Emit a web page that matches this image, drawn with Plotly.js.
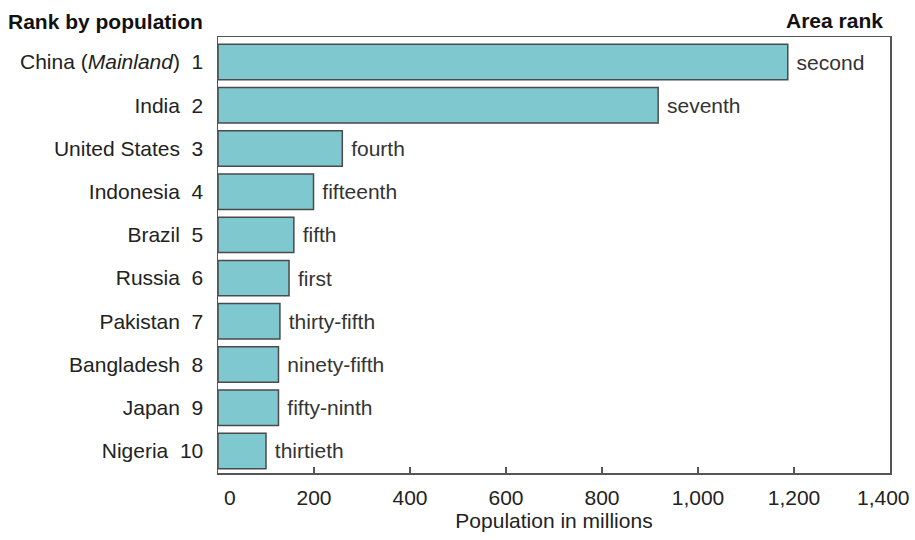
<!DOCTYPE html>
<html><head><meta charset="utf-8">
<script src="https://cdn.plot.ly/plotly-3.0.1.min.js"></script>
<style>html,body{margin:0;padding:0;background:#fff;}#chart{width:915px;height:540px;}</style>
</head><body><div id="chart"></div>
<script>
var countries = ["China (<i>Mainland</i>)", "India", "United States", "Indonesia", "Brazil", "Russia", "Pakistan", "Bangladesh", "Japan", "Nigeria"];
var popRanks = [1, 2, 3, 4, 5, 6, 7, 8, 9, 10];
var population = [1187, 917, 259, 199, 158, 148, 129, 126, 126, 100];
var areaRanks = ["second", "seventh", "fourth", "fifteenth", "fifth", "first", "thirty-fifth", "ninety-fifth", "fifty-ninth", "thirtieth"];
var xTickVals = [0, 200, 400, 600, 800, 1000, 1200, 1400];
var xTickText = ["0", "200", "400", "600", "800", "1,000", "1,200", "1,400"];

var yLabels = countries.map(function(c, i){ return c + "\u00a0\u00a0" + popRanks[i]; });
var barText = areaRanks.map(function(t){ return "\u00a0" + t; });
var font = "Liberation Sans, Arial, Helvetica, sans-serif";
var fs = 21;

// the first and last tick labels sit off-centre in the reference; draw them as annotations
var lastIdx = xTickVals.length - 1;
var shownTickText = xTickText.map(function(t, i){ return (i === 0 || i === lastIdx) ? "" : t; });

var trace = {
  type: "bar",
  orientation: "h",
  x: population,
  y: yLabels,
  text: barText,
  textposition: "outside",
  constraintext: "none",
  cliponaxis: false,
  textfont: {family: font, size: fs, color: "#333"},
  marker: {color: "#80c8d0", line: {color: "#4a4a4a", width: 1.5}},
  width: 0.82,
  hoverinfo: "none"
};

var layout = {
  width: 915, height: 540,
  margin: {l: 218, r: 25, t: 37, b: 67},
  paper_bgcolor: "#fff", plot_bgcolor: "#fff",
  font: {family: font, size: fs, color: "#222"},
  showlegend: false,
  xaxis: {
    range: [0, 1400],
    tickvals: xTickVals, ticktext: shownTickText,
    ticks: "inside", ticklen: 6, tickcolor: "#555", tickwidth: 1.2,
    ticklabelstandoff: 5,
    showgrid: false, zeroline: false,
    showline: true, mirror: true, linecolor: "#555", linewidth: 1.5,
    tickfont: {family: font, size: fs, color: "#222"},
    title: {text: "Population in millions", font: {family: font, size: fs, color: "#222"}, standoff: 4}
  },
  yaxis: {
    type: "category",
    categoryorder: "array", categoryarray: yLabels,
    range: [9.51, -0.58],
    ticks: "", showgrid: false, zeroline: false,
    showline: true, mirror: true, linecolor: "#555", linewidth: 1.5,
    ticklabelstandoff: 9,
    tickfont: {family: font, size: fs, color: "#222"}
  },
  annotations: [
    {text: "<b>Rank by population</b>", xref: "paper", yref: "paper", x: -218/672, y: 1, xanchor: "left", yanchor: "bottom", yshift: 2, xshift: 6, showarrow: false, font: {family: font, size: fs, color: "#111"}},
    {text: "<b>Area rank</b>", xref: "paper", yref: "paper", x: 1, y: 1, xanchor: "right", yanchor: "bottom", yshift: 3, xshift: -5, showarrow: false, font: {family: font, size: fs, color: "#111"}},
    {text: xTickText[0], xref: "x", yref: "paper", x: xTickVals[0], y: 0, xanchor: "center", yanchor: "middle", xshift: 12, yshift: -24, showarrow: false, font: {family: font, size: fs, color: "#222"}},
    {text: xTickText[lastIdx], xref: "x", yref: "paper", x: xTickVals[lastIdx], y: 0, xanchor: "right", yanchor: "middle", xshift: 22, yshift: -24, showarrow: false, font: {family: font, size: fs, color: "#222"}}
  ]
};

Plotly.newPlot("chart", [trace], layout, {displayModeBar: false, staticPlot: true});
</script></body></html>
